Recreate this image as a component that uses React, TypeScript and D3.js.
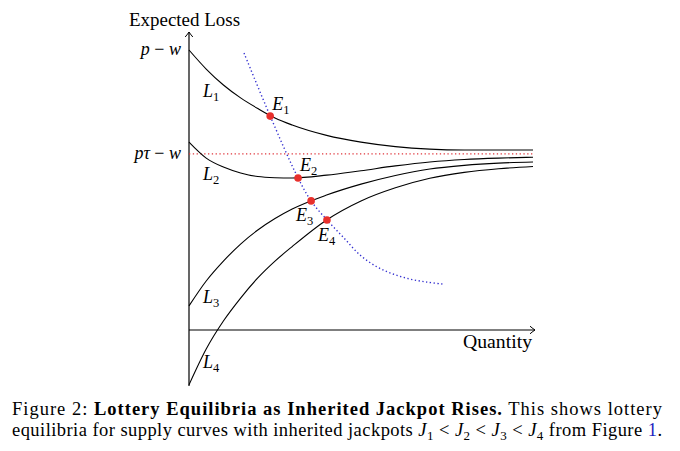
import React from 'react';
import * as d3 from 'd3';

// quantity samples shared by the four supply curves
const Q = [0, 0.5, 1, 1.5, 2, 2.5, 3, 4, 5, 6, 7, 8, 9, 10];
const L1 = [1.0, 0.932, 0.875, 0.829, 0.791, 0.757, 0.732, 0.695, 0.671, 0.655, 0.646, 0.643, 0.643, 0.643];
const L2 = [0.671, 0.614, 0.582, 0.561, 0.548, 0.544, 0.543, 0.553, 0.569, 0.586, 0.6, 0.609, 0.614, 0.617];
const L3 = [0.086, 0.175, 0.246, 0.307, 0.357, 0.398, 0.432, 0.482, 0.521, 0.552, 0.575, 0.588, 0.596, 0.6];
const L4 = [-0.196, -0.068, 0.032, 0.114, 0.186, 0.246, 0.298, 0.393, 0.461, 0.508, 0.542, 0.563, 0.576, 0.584];
const CURVES = [L1, L2, L3, L4];
const CURVE_NAMES = ['1', '2', '3', '4'];

// equilibrium locus (blue dotted)
const LOCUS_Q = [1.6, 2.36, 3.17, 3.55, 4.01, 4.48, 4.97, 5.47, 5.93, 6.42, 6.92, 7.38];
const LOCUS_L = [0.989, 0.764, 0.543, 0.461, 0.393, 0.332, 0.268, 0.225, 0.2, 0.182, 0.171, 0.164];

// equilibria E1..E4
const EQ_Q = [2.36, 3.17, 3.55, 4.01];
const EQ_L = [0.764, 0.543, 0.461, 0.393];

const P_MINUS_W = 1.0;
const PTAU_MINUS_W = 0.629;

const SERIF = "'Liberation Serif', 'DejaVu Serif', serif";

function Arrow({ x, y, angle }: { x: number; y: number; angle: number }) {
  return (
    <path
      d="M -5,-3.8 Q -1.6,-1 0,0 Q -1.6,1 -5,3.8"
      transform={`translate(${x},${y}) rotate(${angle})`}
      fill="none"
      stroke="#000"
      strokeWidth={1}
    />
  );
}

function Sub({ n }: { n: string }) {
  return (
    <tspan fontStyle="normal" fontSize={12.5} dy={4}>
      {n}
    </tspan>
  );
}

export default function App() {
  const x = d3.scaleLinear().domain([0, 10]).range([189, 533]);
  const y = d3.scaleLinear().domain([0, 1]).range([330, 50]);

  const line = d3
    .line<[number, number]>()
    .x((d) => x(d[0]))
    .y((d) => y(d[1]))
    .curve(d3.curveMonotoneX);

  const locus = d3
    .line<[number, number]>()
    .x((d) => x(d[0]))
    .y((d) => y(d[1]))
    .curve(d3.curveCatmullRom.alpha(0.5));

  const x0 = x(0);
  const yBottom = y(-0.2);
  const yTop = 32;
  const xEnd = 535;

  const labelOffsets: [number, number][] = [
    [2, -6],
    [2, -7],
    [-15, 20],
    [-9, 21],
  ];
  const curveLabelY = [97, 180, 303, 368];

  return (
    <svg
      width={680}
      height={451}
      style={{ position: 'absolute', left: 0, top: 0, background: '#fff' }}
      fontFamily={SERIF}
    >
      <rect width={680} height={451} fill="#fff" />

      {/* axes */}
      <line x1={x0} y1={yBottom} x2={x0} y2={yTop} stroke="#000" strokeWidth={1.2} />
      <Arrow x={x0} y={yTop} angle={-90} />
      <line x1={x0} y1={y(0)} x2={xEnd} y2={y(0)} stroke="#000" strokeWidth={1.2} />
      <Arrow x={xEnd} y={y(0)} angle={0} />

      <text x={129} y={26} fontSize={18} textLength={111} lengthAdjust="spacingAndGlyphs">
        Expected Loss
      </text>
      <text x={532} y={348} fontSize={18} textAnchor="end" textLength={69} lengthAdjust="spacingAndGlyphs">
        Quantity
      </text>

      {/* y tick labels */}
      <text x={181} y={y(P_MINUS_W) + 5} fontSize={18} textAnchor="end" fontStyle="italic">
        p<tspan fontStyle="normal"> − </tspan>w
      </text>
      <text x={181} y={y(PTAU_MINUS_W) + 5} fontSize={18} textAnchor="end" fontStyle="italic">
        pτ<tspan fontStyle="normal"> − </tspan>w
      </text>

      {/* pτ − w reference */}
      <line
        x1={x(0)}
        x2={x(10)}
        y1={y(PTAU_MINUS_W)}
        y2={y(PTAU_MINUS_W)}
        stroke="#e0363c"
        strokeWidth={1.4}
        strokeDasharray="1.3 2.5"
      />

      {/* supply curves */}
      {CURVES.map((vals, i) => (
        <path
          key={i}
          d={line(Q.map((q, j) => [q, vals[j]] as [number, number])) || ''}
          fill="none"
          stroke="#000"
          strokeWidth={1.1}
        />
      ))}
      {CURVE_NAMES.map((n, i) => (
        <text key={n} x={x0 + 14} y={curveLabelY[i]} fontSize={18} fontStyle="italic">
          L<Sub n={n} />
        </text>
      ))}

      {/* equilibrium locus */}
      <path
        d={locus(LOCUS_Q.map((q, j) => [q, LOCUS_L[j]] as [number, number])) || ''}
        fill="none"
        stroke="#3430d0"
        strokeWidth={1.4}
        strokeDasharray="1.3 2.5"
      />

      {EQ_Q.map((q, i) => (
        <g key={i}>
          <circle cx={x(q)} cy={y(EQ_L[i])} r={3.8} fill="#e8302c" />
          <text
            x={x(q) + labelOffsets[i][0]}
            y={y(EQ_L[i]) + labelOffsets[i][1]}
            fontSize={18}
            fontStyle="italic"
          >
            E<Sub n={String(i + 1)} />
          </text>
        </g>
      ))}

      {/* caption */}
      <text x={12} y={415} fontSize={18.5} textLength={650} lengthAdjust="spacing">
        Figure 2: <tspan fontWeight="bold">Lottery Equilibria as Inherited Jackpot Rises.</tspan> This shows lottery
      </text>
      <text x={12} y={436} fontSize={18.5} textLength={650} lengthAdjust="spacing">
        equilibria for supply curves with inherited jackpots{' '}
        <tspan fontStyle="italic">J</tspan>
        <tspan fontSize={13} dy={4}>1</tspan>
        <tspan dy={-4}> &lt; </tspan>
        <tspan fontStyle="italic">J</tspan>
        <tspan fontSize={13} dy={4}>2</tspan>
        <tspan dy={-4}> &lt; </tspan>
        <tspan fontStyle="italic">J</tspan>
        <tspan fontSize={13} dy={4}>3</tspan>
        <tspan dy={-4}> &lt; </tspan>
        <tspan fontStyle="italic">J</tspan>
        <tspan fontSize={13} dy={4}>4</tspan>
        <tspan dy={-4}> from Figure </tspan>
        <tspan fill="#2020c0">1</tspan>.
      </text>
    </svg>
  );
}
